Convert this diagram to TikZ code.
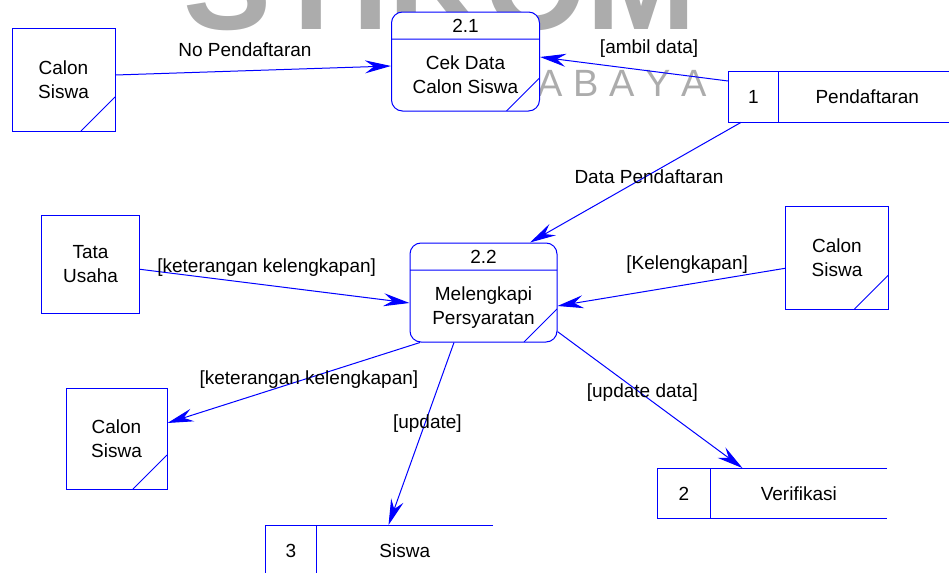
\documentclass[tikz,border=0pt]{standalone}
\usepackage{fontspec}
\setmainfont{Liberation Sans}
\usetikzlibrary{arrows.meta,positioning}
\definecolor{dfdblue}{RGB}{0,0,255}
\definecolor{wmgray}{RGB}{172,172,172}

\begin{document}
\begin{tikzpicture}[x=0.5pt,y=-0.5pt,
  every node/.style={font=\fontsize{9.5}{12}\selectfont},
  entity/.style={draw=dfdblue,fill=white,line width=0.5pt,minimum size=51.5pt,inner sep=0pt,align=center},
  corner/.style={path picture={\draw[dfdblue,line width=0.5pt]
    ([yshift=17pt]path picture bounding box.south east) -- ([xshift=-17pt]path picture bounding box.south east);}},
  process/.style={draw=dfdblue,fill=white,line width=0.5pt,rounded corners=5.5pt,
    minimum width=74pt,minimum height=49.5pt,inner sep=0pt,
    path picture={\draw[dfdblue,line width=0.5pt]
      ([yshift=-13.5pt]path picture bounding box.north west) -- ([yshift=-13.5pt]path picture bounding box.north east)
      ([yshift=16.5pt]path picture bounding box.south east) -- ([xshift=-16.5pt]path picture bounding box.south east);}},
  store/.style={minimum width=25pt,minimum height=25pt,inner sep=0pt},
  storename/.style={minimum width=88pt,minimum height=25pt,inner sep=0pt},
  flow/.style={draw=dfdblue,line width=0.5pt,-{Stealth[length=13pt,width=6.5pt,inset=4.5pt]}}]
\useasboundingbox (0,0) rectangle (949,573);
% watermark
\node [text=wmgray,font=\fontsize{66}{66}\selectfont\bfseries,anchor=base,inner sep=0pt] (wm) at (440,30) {STIKOM};
\node [text=wmgray,font=\fontsize{19}{19}\selectfont,anchor=base,inner sep=0pt] (wmsub) at (566,97) {S U R A B A Y A};
% entities
\node [entity,corner] (cs1) at (63.5,79.5) {Calon\\Siswa};
\node [entity,minimum size=49pt] (tu) at (90.5,264) {Tata\\Usaha};
\node [entity,corner] (cs2) at (837,257.5) {Calon\\Siswa};
\node [entity,corner,minimum size=50.5pt] (cs3) at (116.5,438.5) {Calon\\Siswa};
% processes
\node [process] (p21) at (465.5,61.5) {};
\node (p21n) at ([yshift=-7pt]p21.north) {2.1};
\node [align=center] (p21t) at ([yshift=-6.75pt]p21.center) {Cek Data\\Calon Siswa};
\node [process,minimum width=73.5pt] (p22) at (483.5,292.5) {};
\node (p22n) at ([yshift=-7pt]p22.north) {2.2};
\node [align=center] (p22t) at ([yshift=-7.5pt]p22.center) {Melengkapi\\Persyaratan};
% data stores
\node [store] (s1) at (753.5,97) {1};
\node [storename,right=0pt of s1] (s1t) {Pendaftaran};
\node [store,minimum width=26pt] (s2) at (684,493.5) {2};
\node [storename,right=0pt of s2] (s2t) {Verifikasi};
\node [store] (s3) at (291,550.5) {3};
\node [storename,right=0pt of s3] (s3t) {Siswa};
\foreach \s in {s1,s2,s3}
  \draw [dfdblue,line width=0.5pt] (\s t.north east) -- (\s.north west) -- (\s.south west) -- (\s t.south east)
    (\s.north east) -- (\s.south east);
% flows
\draw [flow] ([yshift=2.25pt]cs1.east) -- node [pos=0.47,yshift=10.4pt] (f1) {No Pendaftaran} ([yshift=-2.25pt]p21.west);
\draw [flow] ([yshift=8pt]s1.west) -- node [pos=0.42,yshift=11pt] (f2) {[ambil data]} ([yshift=2.25pt]p21.east);
\draw [flow] ([xshift=-6.25pt]s1.south) -- node [pos=0.455,xshift=2pt] (f3) {Data Pendaftaran} ([xshift=23.25pt]p22.north);
\draw [flow] ([yshift=-2.65pt]tu.east) -- node [pos=0.47,yshift=9pt] (f4) {[keterangan kelengkapan]} ([yshift=-5.25pt]p22.west);
\draw [flow] ([yshift=-5.4pt]cs2.west) -- node [pos=0.43,yshift=9.85pt] (f5) {[Kelengkapan]} ([yshift=-6.75pt]p22.east);
\draw [flow] ([xshift=-31.75pt]p22.south) -- node [pos=0.44,yshift=-0.7pt] (f6) {[keterangan kelengkapan]} ([yshift=7.75pt]cs3.east);
\draw [flow] ([xshift=-14.75pt]p22.south) -- node [pos=0.443,xshift=1.2pt] (f7) {[update]} ([xshift=-8.15pt]s3t.north);
\draw [flow] ([yshift=-19.55pt]p22.east) -- node [pos=0.45,xshift=0.8pt] (f8) {[update data]} ([xshift=-28.15pt]s2t.north);
\end{tikzpicture}
\end{document}
